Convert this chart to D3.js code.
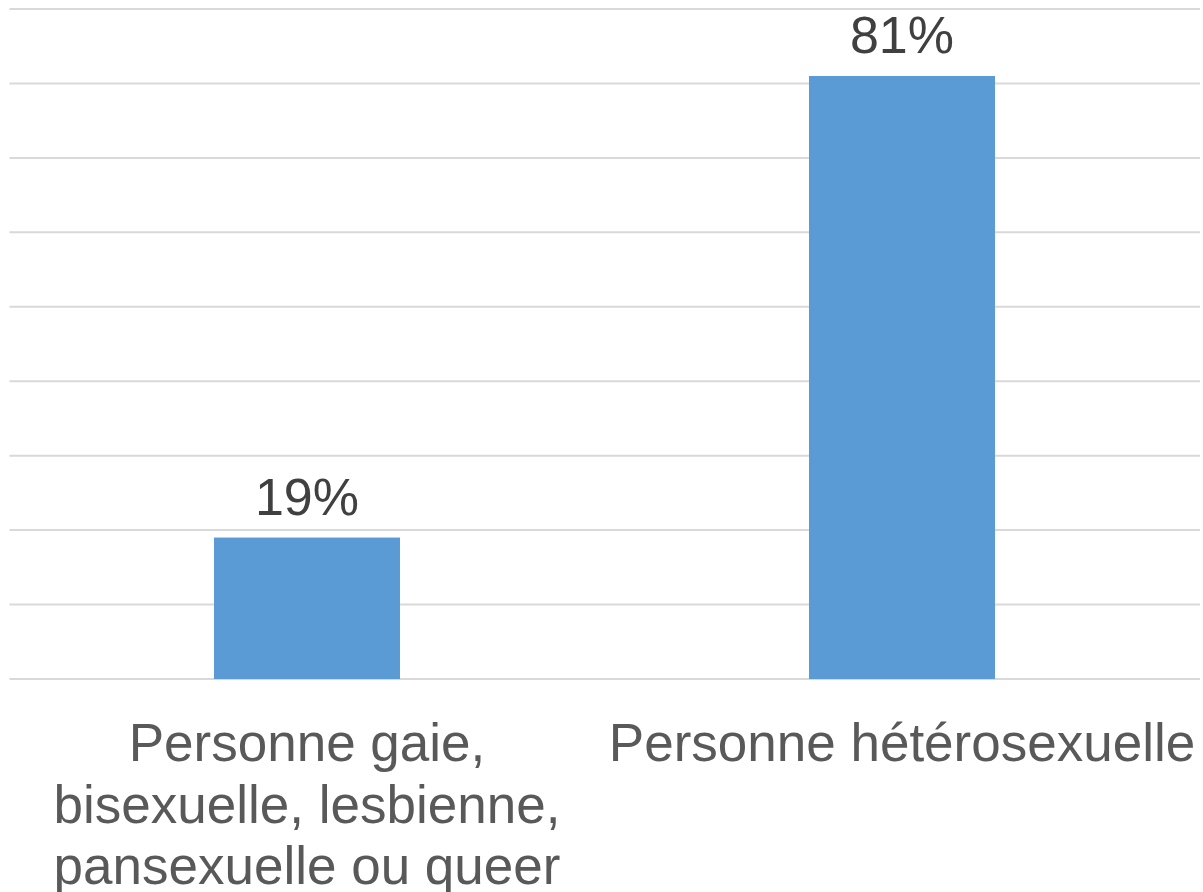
<!DOCTYPE html>
<html>
<head>
<meta charset="utf-8">
<script src="https://cdn.jsdelivr.net/npm/d3@7"></script>
<style>
  body { margin: 0; background: #fff; }
  svg text { font-family: "Liberation Sans", Arial, sans-serif; }
</style>
</head>
<body>
<div id="chart"></div>
<script>
// categories, each one split into its wrapped lines
var categories = ["gbl", "hetero"];
var categoryLines = [
    ["Personne gaie,", "bisexuelle, lesbienne,", "pansexuelle ou queer"],
    ["Personne hétérosexuelle"]
];
var values = [19, 81];
var yTicks = [0, 10, 20, 30, 40, 50, 60, 70, 80, 90];

var width = 1203, height = 892;

var svg = d3.select("#chart")
    .append("svg")
    .attr("width", width)
    .attr("height", height);

// x: band scale, bar is roughly a third of the step
var x = d3.scaleBand()
    .domain(categories)
    .range([9.5, 1199.5])
    .paddingInner(0.6874)
    .paddingOuter(0.3437);

var y = d3.scaleLinear()
    .domain([0, 90])
    .range([679, 9]);

// horizontal gridlines
svg.append("g")
    .selectAll("line")
    .data(yTicks)
    .enter()
    .append("line")
    .attr("x1", 9.5)
    .attr("x2", 1200)
    .attr("y1", function(d) { return y(d); })
    .attr("y2", function(d) { return y(d); })
    .attr("stroke", "#d9d9d9")
    .attr("stroke-width", 2);

// bars
svg.append("g")
    .selectAll("rect")
    .data(values)
    .enter()
    .append("rect")
    .attr("x", function(d, i) { return x(categories[i]); })
    .attr("y", function(d) { return y(d); })
    .attr("width", x.bandwidth())
    .attr("height", function(d) { return y(0) - y(d); })
    .attr("fill", "#5b9bd5");

// value labels above bars
svg.append("g")
    .selectAll("text")
    .data(values)
    .enter()
    .append("text")
    .attr("x", function(d, i) { return x(categories[i]) + x.bandwidth() / 2; })
    .attr("y", function(d) { return y(d) - 23; })
    .attr("text-anchor", "middle")
    .attr("font-size", "52px")
    .attr("fill", "#404040")
    .text(function(d) { return d + "%"; });

// category labels under the axis
var labels = svg.append("g")
    .selectAll("text")
    .data(categoryLines)
    .enter()
    .append("text")
    .attr("text-anchor", "middle")
    .attr("font-size", "53px")
    .attr("fill", "#595959")
    .attr("transform", function(d, i) {
        return "translate(" + (x(categories[i]) + x.bandwidth() / 2) + ",761)";
    });

labels.selectAll("tspan")
    .data(function(d) { return d; })
    .enter()
    .append("tspan")
    .attr("x", 0)
    .attr("y", function(d, i) { return i * 61.5; })
    .text(function(d) { return d; });
</script>
</body>
</html>
